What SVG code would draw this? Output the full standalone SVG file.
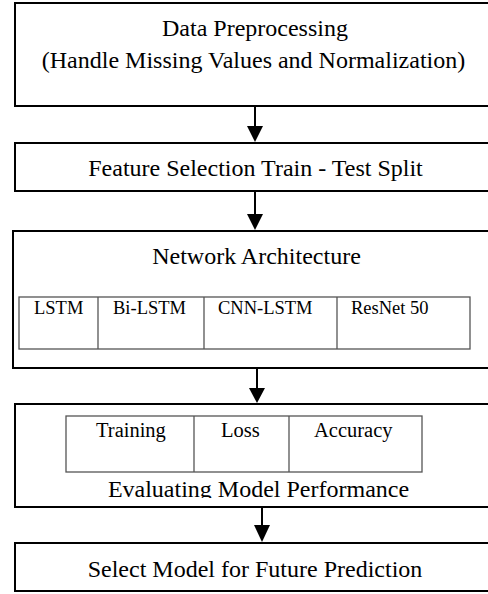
<svg xmlns="http://www.w3.org/2000/svg" width="488" height="594" viewBox="0 0 488 594">
<style>
.box{fill:#fff;stroke:#000;stroke-width:2}
.cell{fill:none;stroke:#555;stroke-width:1.3}
.t{font-family:"Liberation Serif","Times New Roman",serif;fill:#000}
.m{font-size:24px;text-anchor:middle}
.s{font-size:18.5px}
.e{font-size:20.5px}
.ar{stroke:#000;stroke-width:2;fill:none}
.hd{fill:#000}
</style>
<defs>
<clipPath id="clipEval"><rect x="0" y="404" width="500" height="94"/></clipPath>
</defs>
<g id="connectors">
<line class="ar" x1="255" y1="106" x2="255" y2="128"/>
<polygon class="hd" points="247,126 263,126 255,142"/>
<line class="ar" x1="255" y1="191" x2="255" y2="216"/>
<polygon class="hd" points="247,214 263,214 255,230"/>
<line class="ar" x1="257" y1="368" x2="257" y2="390"/>
<polygon class="hd" points="249,388 265,388 257,403"/>
<line class="ar" x1="262" y1="507" x2="262" y2="527"/>
<polygon class="hd" points="254,525 270,525 262,542"/>
</g>
<g id="n1">
<rect class="box" x="15" y="3" width="490" height="103"/>
<text class="t m" x="255" y="36">Data Preprocessing</text>
<text class="t m" x="253.5" y="68">(Handle Missing Values and Normalization)</text>
</g>
<g id="n2">
<rect class="box" x="15" y="143" width="490" height="48"/>
<text class="t m" x="255.5" y="176">Feature Selection Train - Test Split</text>
</g>
<g id="n3">
<rect class="box" x="13" y="231" width="492" height="137"/>
<text class="t m" x="256.5" y="264">Network Architecture</text>
<rect class="cell" x="19" y="297" width="451" height="52"/>
<line class="cell" x1="98" y1="297" x2="98" y2="349"/>
<line class="cell" x1="204" y1="297" x2="204" y2="349"/>
<line class="cell" x1="337" y1="297" x2="337" y2="349"/>
<text class="t s" x="34" y="314">LSTM</text>
<text class="t s" x="113" y="314">Bi-LSTM</text>
<text class="t s" x="218" y="314">CNN-LSTM</text>
<text class="t s" x="351" y="314">ResNet 50</text>
</g>
<g id="n4">
<rect class="box" x="15" y="404" width="490" height="103"/>
<rect class="cell" x="66" y="416" width="356" height="56"/>
<line class="cell" x1="194" y1="416" x2="194" y2="472"/>
<line class="cell" x1="289" y1="416" x2="289" y2="472"/>
<text class="t e" x="96" y="437">Training</text>
<text class="t e" x="221" y="437">Loss</text>
<text class="t e" x="314" y="437">Accuracy</text>
<text class="t m" x="258.5" y="497" clip-path="url(#clipEval)">Evaluating Model Performance</text>
</g>
<g id="n5">
<rect class="box" x="15" y="543" width="490" height="48"/>
<text class="t m" x="255" y="577">Select Model for Future Prediction</text>
</g>
</svg>
